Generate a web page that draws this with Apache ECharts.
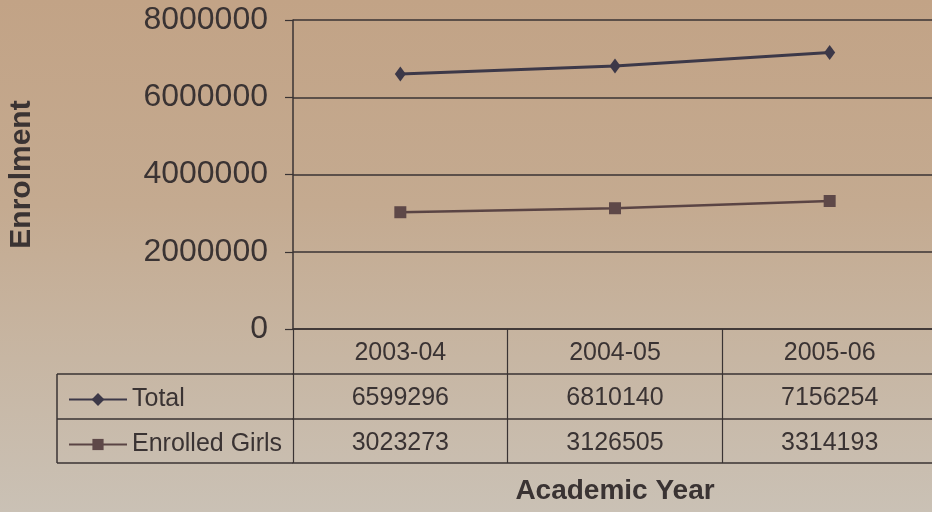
<!DOCTYPE html>
<html>
<head>
<meta charset="utf-8">
<script src="https://cdn.jsdelivr.net/npm/echarts@6/dist/echarts.min.js"></script>
<style>
  html, body { margin: 0; padding: 0; }
  body {
    width: 932px; height: 512px;
    background: linear-gradient(180deg, #c2a386 0%, #c4aa90 40%, #c7b6a3 70%, #cac1b5 100%);
  }
  #chart { width: 932px; height: 512px; }
</style>
</head>
<body>
<div id="chart"></div>
<script>
// data
const years = ['2003-04', '2004-05', '2005-06'];
const total = [6599296, 6810140, 7156254];
const girls = [3023273, 3126505, 3314193];
const yTicks = [0, 2000000, 4000000, 6000000, 8000000];

const ink = '#3a3333';
const font = 'Liberation Sans, Arial, sans-serif';

// layout
const gLeft = 293, gTop = 20, gWidth = 644, gHeight = 309;
const rowH = 45;
const tableLeft = 57;

const chart = echarts.init(document.getElementById('chart'));

function tableAxis(offset, labels, tickLen, showLabel) {
  return {
    type: 'category',
    data: years,
    position: 'bottom',
    offset: offset,
    boundaryGap: true,
    axisLine: { show: true, lineStyle: { color: ink, width: 1.5 } },
    axisTick: { show: tickLen > 0, interval: 0, length: tickLen, lineStyle: { color: ink, width: 1.2 } },
    axisLabel: {
      show: showLabel,
      interval: 0,
      margin: 12,
      color: ink,
      fontSize: 25,
      fontFamily: font,
      formatter: (v, i) => String(labels[i]),
    },
    splitLine: { show: false },
  };
}

const bottomY = gTop + gHeight;
const xAxes = [
  tableAxis(0, years, rowH, true),
  tableAxis(rowH, total, rowH, true),
  tableAxis(rowH * 2, girls, rowH - 1, true),
  Object.assign(tableAxis(rowH * 3 - 1, years, 0, false), {
    name: 'Academic Year',
    nameLocation: 'middle',
    nameGap: 14,
    nameTextStyle: { color: ink, fontSize: 28, fontWeight: 'bold', fontFamily: font },
  }),
];

const line = (x1, y1, x2, y2) => ({
  type: 'line',
  shape: { x1, y1, x2, y2 },
  style: { stroke: ink, lineWidth: 1.5 },
  silent: true,
});

const option = {
  animation: false,
  backgroundColor: 'transparent',
  grid: { left: gLeft, top: gTop, width: gWidth, height: gHeight, containLabel: false, outerBoundsMode: 'none' },
  xAxis: xAxes,
  yAxis: {
    type: 'value',
    min: yTicks[0],
    max: yTicks[yTicks.length - 1],
    interval: yTicks[1] - yTicks[0],
    name: 'Enrolment',
    nameLocation: 'middle',
    nameRotate: 90,
    nameGap: 256,
    nameTextStyle: { color: ink, fontSize: 30, fontWeight: 'bold', fontFamily: font },
    axisLine: { show: true, lineStyle: { color: ink, width: 1.5 } },
    axisTick: { show: true, length: 8, lineStyle: { color: ink, width: 1.2 } },
    axisLabel: { margin: 25, color: ink, fontSize: 32, fontFamily: font, formatter: v => String(v) },
    splitLine: { show: true, lineStyle: { color: ink, width: 1.5 } },
  },
  legend: [
    {
      data: ['Total'],
      left: tableLeft + 6,
      top: bottomY + rowH + 8,
      itemWidth: 58,
      itemHeight: 16,
      textStyle: { color: ink, fontSize: 25, fontFamily: font },
    },
    {
      data: ['Enrolled Girls'],
      left: tableLeft + 6,
      top: bottomY + rowH * 2 + 8,
      itemWidth: 58,
      itemHeight: 14,
      textStyle: { color: ink, fontSize: 25, fontFamily: font },
    },
  ],
  graphic: [
    line(tableLeft, bottomY + rowH, gLeft, bottomY + rowH),
    line(tableLeft, bottomY + rowH * 2, gLeft, bottomY + rowH * 2),
    line(tableLeft, bottomY + rowH * 3 - 1, gLeft, bottomY + rowH * 3 - 1),
    line(tableLeft, bottomY + rowH, tableLeft, bottomY + rowH * 3 - 1),
  ],
  series: [
    {
      name: 'Total',
      type: 'line',
      data: total,
      symbol: 'diamond',
      symbolSize: [11, 15],
      lineStyle: { color: '#3c3848', width: 3 },
      itemStyle: { color: '#3c3848' },
    },
    {
      name: 'Enrolled Girls',
      type: 'line',
      data: girls,
      symbol: 'rect',
      symbolSize: 12,
      lineStyle: { color: '#5a4444', width: 2.5 },
      itemStyle: { color: '#5e4848' },
    },
  ],
};

chart.setOption(option);
</script>
</body>
</html>
